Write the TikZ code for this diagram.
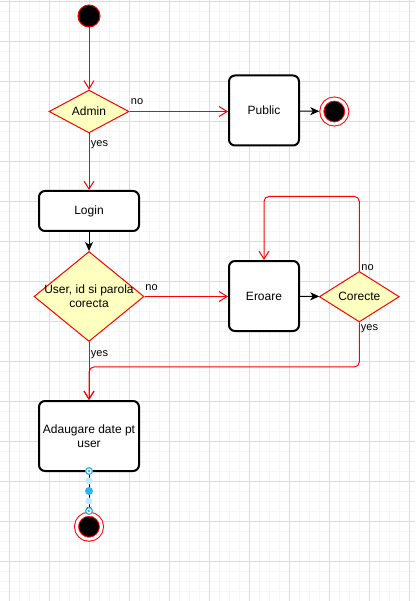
\documentclass[tikz,border=0pt]{standalone}
\usepackage{fontspec}
\setmainfont{Liberation Sans}
\usetikzlibrary{shapes.geometric, arrows.meta, positioning}

\definecolor{gridminor}{HTML}{F6F6F6}
\definecolor{gridmajor}{HTML}{DDDDDD}
\definecolor{decfill}{HTML}{FFFFC0}
\definecolor{edgered}{HTML}{FF0000}
\definecolor{handleblue}{HTML}{29B6F2}

\begin{document}
\begin{tikzpicture}[x=1pt, y=-1pt, font=\fontsize{12}{14}\selectfont,
	actbox/.style={draw=black, line width=2pt, fill=white, rounded corners=6pt, align=center, inner sep=0pt},
	decision/.style={diamond, draw=edgered, fill=decfill, line width=1pt, inner sep=0pt, align=center},
	startst/.style={circle, draw=edgered, fill=black, line width=1pt, minimum size=22pt, inner sep=0pt},
	endst/.style={circle, draw=edgered, fill=black, line width=1pt, double=white, double distance=3pt, minimum size=25pt, inner sep=0pt, outer sep=2.5pt},
	redarr/.style={draw=edgered, line width=1pt, -{Straight Barb[length=8pt, width=10pt]}},
	blackarr/.style={draw=black, line width=1pt, -{Stealth[length=9pt, width=8pt, inset=2.5pt]}},
	lbl/.style={font=\fontsize{11}{13}\selectfont, inner sep=0pt}]
	\def\xL{89}
	\def\xR{264}
	
	% fundal cu grila
	\useasboundingbox (0,0) rectangle (415,601);
	\fill[white] (0,0) rectangle (415,601);
	\foreach \i in {0,...,41}{
		\pgfmathsetmacro{\gx}{9.3+10*\i}
		\draw[gridminor, line width=1pt] (\gx,0) -- (\gx,601);
	}
	\foreach \i in {0,...,60}{
		\pgfmathsetmacro{\gy}{1.7+10*\i}
		\draw[gridminor, line width=1pt] (0,\gy) -- (415,\gy);
	}
	\foreach \i in {0,...,10}{
		\pgfmathsetmacro{\gx}{9.3+40*\i}
		\draw[gridmajor, line width=1pt] (\gx,0) -- (\gx,601);
	}
	\foreach \i in {0,...,14}{
		\pgfmathsetmacro{\gy}{1.7+40*\i}
		\draw[gridmajor, line width=1pt] (0,\gy) -- (415,\gy);
	}
	
	% stari si actiuni
	\node[startst] (start) at (\xL,16) {};
	\node[decision, minimum width=80, minimum height=40] (admin) at (\xL,111.5) {Admin};
	\node[actbox, minimum width=70, minimum height=70] (public) at (\xR,110.5) {Public};
	\node[endst] (endpub) at (334.3,111.5) {};
	\node[actbox, minimum width=100, minimum height=40] (login) at (\xL,211) {Login};
	\node[decision, minimum width=110, minimum height=90] (user) at (\xL,296.5) {};
	\node[align=center, inner sep=0pt] (usertext) at (user) {User, id si parola\\corecta};
	\node[actbox, minimum width=70, minimum height=70] (eroare) at (\xR,296) {Eroare};
	\node[decision, minimum width=80, minimum height=40] (corecte) at (359.3,296.7) {Corecte};
	\node[actbox, minimum width=100, minimum height=70] (adaugare) at (\xL,436) {Adaugare date pt\\user};
	\node[endst] (endmain) at (\xL,526.7) {};
	
	% tranzitii
	\draw[redarr] (start) -- (admin);
	\draw[redarr] (admin.east) -- (admin.east -| public.west);
	\draw[blackarr] (public) -- (endpub);
	\draw[redarr] (admin) -- (login);
	\draw[blackarr] (login) -- (user);
	\draw[redarr] (user.east) -- (user.east -| eroare.west);
	\draw[blackarr] (eroare) -- (corecte);
	\draw[redarr, rounded corners=5pt] (corecte.north) -- ++(0,-74.5) -| (eroare.north);
	\draw[redarr, rounded corners=5pt] (corecte.south) -- ++(0,44.5) -| (adaugare.north);
	\draw[redarr] (user.south) -- (adaugare.north);
	\draw[draw=black, line width=1pt, -{Stealth[length=5pt, width=5pt]}] (adaugare.south) -- (endmain.north);
	
	% etichete
	\node[lbl] (noadmin) at (137,101.5) {no};
	\node[lbl] (yesadmin) at (99.5,144.5) {yes};
	\node[lbl] (nouser) at (151.5,287.5) {no};
	\node[lbl] (yesuser) at (99.5,354.5) {yes};
	\node[lbl] (nocor) at (367.5,268) {no};
	\node[lbl] (yescor) at (369.5,329) {yes};
	
	% manere de selectie
	\fill[handleblue!30] (\xL,481) circle (3.5);
	\fill[handleblue!30] (\xL,501) circle (3.5);
	\fill[handleblue] (\xL,491) circle (4);
	\foreach \hy in {471,511}{
		\fill[handleblue] (\xL,\hy) circle (4);
		\fill[white] (\xL,\hy) circle (2.6);
		\fill[handleblue] (\xL,\hy) circle (1.3);
	}
\end{tikzpicture}
\end{document}
